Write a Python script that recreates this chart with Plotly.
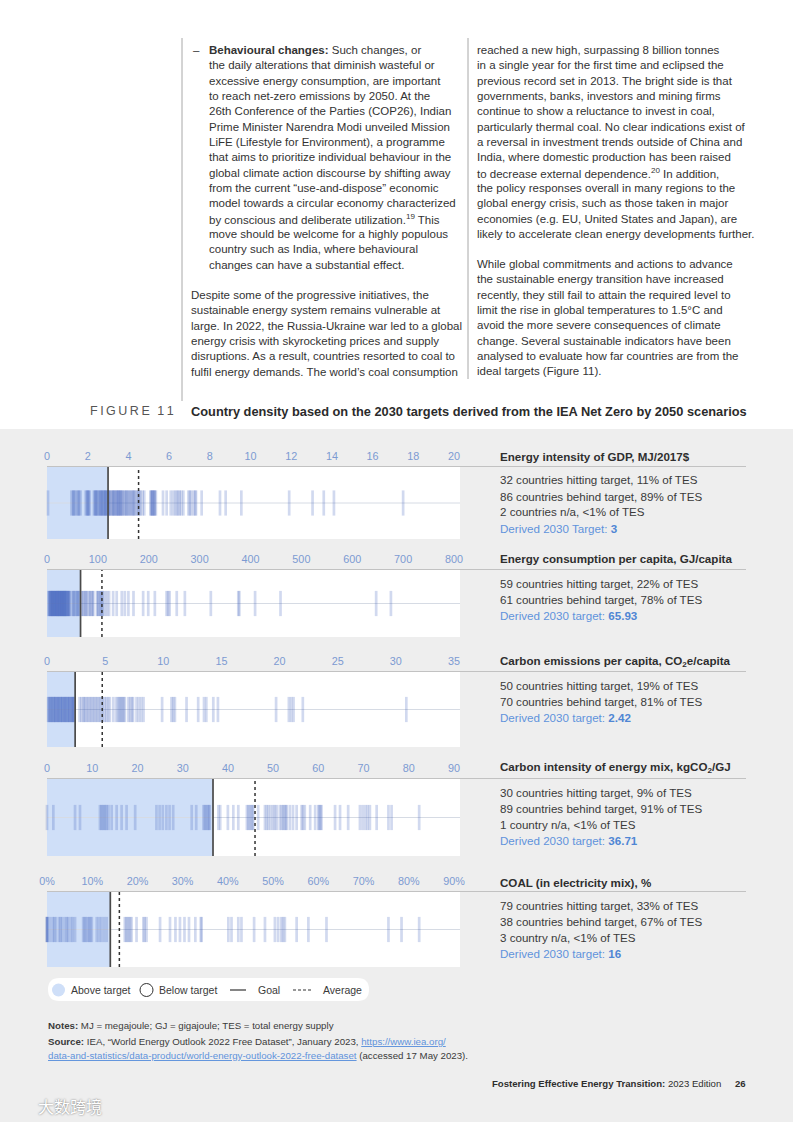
import plotly.graph_objects as go

# ---------------- DATA ----------------
panel_titles = [
    "Energy intensity of GDP, MJ/2017$",
    "Energy consumption per capita, GJ/capita",
    "Carbon emissions per capita, CO<sub>2</sub>e/capita",
    "Carbon intensity of energy mix, kgCO<sub>2</sub>/GJ",
    "COAL (in electricity mix), %",
]
panel_stats = [
    ["32 countries hitting target, 11% of TES", "86 countries behind target, 89% of TES", "2 countries n/a, &lt;1% of TES"],
    ["59 countries hitting target, 22% of TES", "61 countries behind target, 78% of TES"],
    ["50 countries hitting target, 19% of TES", "70 countries behind target, 81% of TES"],
    ["30 countries hitting target, 9% of TES", "89 countries behind target, 91% of TES", "1 country n/a, &lt;1% of TES"],
    ["79 countries hitting target, 33% of TES", "38 countries behind target, 67% of TES", "3 country n/a, &lt;1% of TES"],
]
target_labels = ["Derived 2030 Target: ", "Derived 2030 target: ", "Derived 2030 target: ",
                 "Derived 2030 target: ", "Derived 2030 target: "]
target_values = ["3", "65.93", "2.42", "36.71", "16"]

axis_max = [20, 800, 35, 90, 90]
axis_step = [2, 100, 5, 10, 10]
tick_suffix = ["", "", "", "", "%"]
goals = [3, 65.93, 2.42, 36.71, 14]
averages = [4.5, 108, 4.75, 46, 16]

energy_intensity = [0.05,
    1.2, 1.28, 1.3, 1.35, 1.42, 1.5, 1.55, 1.58, 1.65,
    1.9, 1.95, 2.0, 2.02, 2.05, 2.1,
    2.3, 2.35, 2.4, 2.4, 2.45, 2.5, 2.55, 2.6, 2.62, 2.68, 2.7, 2.72, 2.78, 2.82, 2.85, 2.88, 2.9, 2.95, 3.0, 3.02, 3.05, 3.08,
    3.12, 3.18, 3.22, 3.25, 3.28, 3.3, 3.35, 3.4, 3.42, 3.45, 3.5, 3.52, 3.55, 3.58, 3.62, 3.65, 3.68, 3.72, 3.78,
    3.82, 3.88, 3.9, 3.95, 4.0, 4.05, 4.1, 4.15, 4.2, 4.25, 4.28, 4.32, 4.4, 4.45, 4.5, 4.55, 4.6,
    4.7, 4.78,
    5.08, 5.12, 5.15, 5.18, 5.2, 5.25, 5.28, 5.3, 5.35,
    5.7, 5.88, 6.08, 6.2,
    6.3, 6.38, 6.45, 6.52, 6.6, 6.7,
    6.95, 7.02, 7.08, 7.2, 7.28, 7.32, 7.6,
    8.5, 8.78, 9.55, 11.9, 13.05, 13.6, 14.1, 17.5]

energy_per_capita = [3, 4, 5, 6, 7, 8, 9, 10, 10, 11, 12, 13, 14, 15, 15, 16, 17, 18, 19, 20, 20,
    21, 22, 23, 24, 25, 25, 26, 27, 28, 29, 30, 30, 31, 32, 33, 34, 35, 35, 36, 37, 38, 39,
    40, 41, 42, 43, 44, 45,
    50, 52, 53, 56, 58, 60, 62, 63,
    68, 70, 72, 75, 76, 78,
    81, 84, 85, 88, 90, 91,
    98, 100, 101, 104, 105, 107, 109, 110,
    114, 118, 122,
    130, 137, 147, 153, 160, 170,
    189, 199, 212,
    235, 238, 241,
    255, 271,
    322, 376, 378, 409, 459, 647, 676]

carbon_per_capita = [0.1, 0.15, 0.2, 0.3, 0.35, 0.4, 0.45, 0.55, 0.6, 0.65, 0.7, 0.75, 0.85, 0.9, 0.95,
    1.0, 1.05, 1.15, 1.2, 1.25, 1.3, 1.35, 1.45, 1.5, 1.55, 1.6, 1.65, 1.75, 1.8, 1.85, 1.9, 1.95,
    2.05, 2.1, 2.15, 2.2, 2.25, 2.3, 2.35,
    2.8, 2.95, 3.1, 3.2, 3.3, 3.45, 3.55, 3.7, 3.8, 3.95, 4.05, 4.2, 4.3, 4.45, 4.55,
    4.7, 4.8, 4.95, 5.1, 5.25, 5.4,
    5.7, 5.95,
    6.1, 6.2, 6.3, 6.4, 6.5, 6.6, 6.7,
    7.0, 7.15, 7.3, 7.4,
    7.7, 7.9, 8.1, 8.3,
    9.9, 10.7, 10.85, 11.0, 12.0, 13.0, 13.5, 13.7, 14.3, 14.7,
    19.7, 20.8, 21.0, 21.2, 22.0,
    30.9]

carbon_intensity = [0, 1.4, 6.2, 7.3,
    11.7, 12.0, 12.3, 12.6, 12.9, 13.2, 13.6,
    14.3, 15.4, 16.5, 17.6, 19.5,
    24.2, 24.9, 25.6, 26.4, 27.1, 27.9,
    32.0, 33.0,
    34.6, 34.9, 35.2, 35.5, 35.8, 36.0,
    37.9, 38.3,
    40.0, 41.2, 42.3,
    44.2, 44.5, 44.8, 45.1, 45.4, 45.6,
    46.7,
    48.2, 48.6, 49.0, 49.5, 50.0, 50.4, 50.8,
    51.5, 51.9, 52.2, 52.5, 52.8, 53.0,
    53.7, 54.4, 55.2,
    56.3, 56.6, 57.0,
    58.2, 59.3,
    60.0, 60.2, 60.5, 60.7,
    63.7, 64.8, 66.6,
    69.2, 69.8, 70.4, 70.9, 71.4,
    72.9, 75.5, 76.2, 82.3]

coal_share = [0, 0, 0, 0.1,
    0.7, 1.3, 1.6, 2.0, 2.7, 3.0, 3.4, 4.0, 4.4, 4.7, 5.3, 5.7, 6.2,
    8.0, 8.3, 8.6, 9.0, 9.3, 9.6, 9.9,
    11.0, 11.5, 12.0, 12.6, 13.2,
    17.2, 17.5, 17.8, 18.1, 18.4, 18.7,
    19.8, 21.3, 21.6, 22.0,
    25.0, 27.2, 28.4, 29.4, 30.4, 31.4, 32.8, 34.0, 34.2,
    40.1, 40.8, 42.3, 43.0,
    45.8, 48.2, 50.4, 51.1, 51.8, 52.2, 52.6,
    55.2, 57.8, 61.8, 75.5, 78.4, 82.3]

panel_values = [energy_intensity, energy_per_capita, carbon_per_capita, carbon_intensity, coal_share]

left_bullet = [
    "<b>Behavioural changes:</b> Such changes, or",
    "the daily alterations that diminish wasteful or",
    "excessive energy consumption, are important",
    "to reach net-zero emissions by 2050. At the",
    "26th Conference of the Parties (COP26), Indian",
    "Prime Minister Narendra Modi unveiled Mission",
    "LiFE (Lifestyle for Environment), a programme",
    "that aims to prioritize individual behaviour in the",
    "global climate action discourse by shifting away",
    "from the current \u201cuse-and-dispose\u201d economic",
    "model towards a circular economy characterized",
    "by conscious and deliberate utilization.<sup>19</sup> This",
    "move should be welcome for a highly populous",
    "country such as India, where behavioural",
    "changes can have a substantial effect.",
]
left_para = [
    "Despite some of the progressive initiatives, the",
    "sustainable energy system remains vulnerable at",
    "large. In 2022, the Russia-Ukraine war led to a global",
    "energy crisis with skyrocketing prices and supply",
    "disruptions. As a result, countries resorted to coal to",
    "fulfil energy demands. The world\u2019s coal consumption",
]
right_para1 = [
    "reached a new high, surpassing 8 billion tonnes",
    "in a single year for the first time and eclipsed the",
    "previous record set in 2013. The bright side is that",
    "governments, banks, investors and mining firms",
    "continue to show a reluctance to invest in coal,",
    "particularly thermal coal. No clear indications exist of",
    "a reversal in investment trends outside of China and",
    "India, where domestic production has been raised",
    "to decrease external dependence.<sup>20</sup> In addition,",
    "the policy responses overall in many regions to the",
    "global energy crisis, such as those taken in major",
    "economies (e.g. EU, United States and Japan), are",
    "likely to accelerate clean energy developments further.",
]
right_para2 = [
    "While global commitments and actions to advance",
    "the sustainable energy transition have increased",
    "recently, they still fail to attain the required level to",
    "limit the rise in global temperatures to 1.5\u00b0C and",
    "avoid the more severe consequences of climate",
    "change. Several sustainable indicators have been",
    "analysed to evaluate how far countries are from the",
    "ideal targets (Figure 11).",
]
figure_label = "F\u2009I\u2009G\u2009U\u2009R\u2009E\u2009\u2009\u20091\u20091"
figure_title = "Country density based on the 2030 targets derived from the IEA Net Zero by 2050 scenarios"
legend_labels = ["Above target", "Below target", "Goal", "Average"]

# ---------------- LAYOUT HELPERS ----------------
W, H = 793, 1122
FONT = "Liberation Sans, Arial, sans-serif"
TXT = "#333333"
BLUE_TXT = "#5f93dc"
SHADE = "#cfdff8"
BG = "#eeeeee"


def fx(x):
    return x / W


def fy(y):
    return 1 - y / H


annotations = []
shapes = []


def add_text(x, y, text, size=11.5, color=TXT, anchor="left", family=FONT):
    annotations.append(dict(x=fx(x), y=fy(y), xref="paper", yref="paper", text=text,
                            showarrow=False, xanchor=anchor, yanchor="middle",
                            borderpad=0, font=dict(size=size, color=color, family=family)))


def paper_line(x0, y0, x1, y1, color, width=1, dash="solid", layer="above"):
    shapes.append(dict(type="line", xref="paper", yref="paper", x0=fx(x0), y0=fy(y0),
                       x1=fx(x1), y1=fy(y1), line=dict(color=color, width=width, dash=dash),
                       layer=layer))


fig = go.Figure()

# page backgrounds: white upper part
shapes.append(dict(type="rect", xref="paper", yref="paper", x0=0, x1=1, y0=fy(429), y1=1,
                   fillcolor="white", line=dict(width=0), layer="below"))

# ---------------- BODY TEXT ----------------
LH = 15.33
add_text(192, 50, "\u2013", size=11.5)
for i, line in enumerate(left_bullet):
    add_text(208, 50 + i * LH, line)
for i, line in enumerate(left_para):
    add_text(190, 295 + i * LH, line)
for i, line in enumerate(right_para1):
    add_text(476, 50 + i * LH, line)
for i, line in enumerate(right_para2):
    add_text(476, 264 + i * LH, line)

paper_line(182, 38, 182, 401, "#a8a8a8", 1)
paper_line(468, 38, 468, 379, "#a8a8a8", 1)

add_text(89, 411, figure_label, size=12.5, color="#555555")
add_text(190, 411, "<b>" + figure_title + "</b>", size=12.8, color="#2b2b2b")

# ---------------- PANELS ----------------
box_top = [467, 570, 672, 779, 892]
box_bot = [539, 637, 747, 856, 967]
title_y = [457, 558, 661, 767, 882]
BOX_L, BOX_R, AX_END = 47, 460, 454

layout_axes = {}
for i in range(5):
    n = i + 1
    xa = "xaxis" if n == 1 else f"xaxis{n}"
    ya = "yaxis" if n == 1 else f"yaxis{n}"
    xr = "x" if n == 1 else f"x{n}"
    yr = "y" if n == 1 else f"y{n}"
    amax = axis_max[i]
    rmax = amax * (BOX_R - BOX_L) / (AX_END - BOX_L)
    tv = list(range(0, amax + 1, axis_step[i]))
    tt = [f"{v}{tick_suffix[i]}" for v in tv]
    layout_axes[xa] = dict(domain=[fx(BOX_L), fx(BOX_R)], range=[0, rmax], anchor=yr,
                           side="top", tickvals=tv, ticktext=tt, showgrid=False,
                           zeroline=False, showline=False, ticks="", fixedrange=True,
                           automargin=False, ticklabelstandoff=4,
                           tickfont=dict(size=10.8, color="#7c9ad2", family=FONT))
    layout_axes[ya] = dict(domain=[fy(box_bot[i]), fy(box_top[i])], range=[-1, 1],
                           visible=False, fixedrange=True, automargin=False)

    vals = panel_values[i]
    fig.add_trace(go.Scatter(
        x=vals, y=[0] * len(vals), xaxis=xr, yaxis=yr, mode="markers",
        marker=dict(symbol="line-ns", size=18,
                    line=dict(width=2.7, color="rgba(62,96,188,0.24)")),
        cliponaxis=False, hoverinfo="skip", showlegend=False))

    # shaded "above target" region
    shapes.append(dict(type="rect", xref=xr, yref=f"{yr} domain", x0=0, x1=goals[i],
                       y0=0, y1=1, fillcolor=SHADE, line=dict(width=0), layer="below"))
    # center line
    shapes.append(dict(type="line", xref=f"{xr} domain", yref=yr, x0=0, x1=1, y0=0, y1=0,
                       line=dict(color="#d6dbe4", width=1), layer="below"))
    # goal line
    shapes.append(dict(type="line", xref=xr, yref=f"{yr} domain", x0=goals[i], x1=goals[i],
                       y0=0, y1=1, line=dict(color="#4a4a4a", width=1.7), layer="above"))
    # average line
    shapes.append(dict(type="line", xref=xr, yref=f"{yr} domain", x0=averages[i], x1=averages[i],
                       y0=0, y1=1, line=dict(color="#333333", width=1.5, dash="3px,3px"),
                       layer="above"))
    # top rule
    paper_line(BOX_L, box_top[i] - 0.5, 746, box_top[i] - 0.5, "#c2c2c2", 1.2)

    # right text
    add_text(499, title_y[i], "<b>" + panel_titles[i] + "</b>", size=11.6, color="#2e2e2e")
    ys = box_top[i] + 13
    for k, s in enumerate(panel_stats[i]):
        add_text(499, ys + k * 16, s, size=11.6, color="#3a3a3a")
    k = len(panel_stats[i])
    add_text(499, ys + k * 16,
             target_labels[i] + f"<b><span style='color:#4f86d4'>{target_values[i]}</span></b>",
             size=11.6, color=BLUE_TXT)

# ---------------- LEGEND ----------------
lx0, lx1, ly0, ly1 = 48, 369, 978, 1001
r = (ly1 - ly0) / 2
path = (f"M{fx(lx0 + r)},{fy(ly0)} L{fx(lx1 - r)},{fy(ly0)} "
        f"Q{fx(lx1)},{fy(ly0)} {fx(lx1)},{fy(ly0 + r)} "
        f"Q{fx(lx1)},{fy(ly1)} {fx(lx1 - r)},{fy(ly1)} "
        f"L{fx(lx0 + r)},{fy(ly1)} "
        f"Q{fx(lx0)},{fy(ly1)} {fx(lx0)},{fy(ly0 + r)} "
        f"Q{fx(lx0)},{fy(ly0)} {fx(lx0 + r)},{fy(ly0)} Z")
shapes.append(dict(type="path", xref="paper", yref="paper", path=path,
                   fillcolor="white", line=dict(width=0), layer="below"))
ly = 990
shapes.append(dict(type="circle", xref="paper", yref="paper", x0=fx(52), x1=fx(65),
                   y0=fy(ly + 6.5), y1=fy(ly - 6.5), fillcolor=SHADE, line=dict(width=0),
                   layer="above"))
shapes.append(dict(type="circle", xref="paper", yref="paper", x0=fx(140), x1=fx(153),
                   y0=fy(ly + 6.5), y1=fy(ly - 6.5), fillcolor="white",
                   line=dict(width=1, color="#333333"), layer="above"))
paper_line(230, ly, 246, ly, "#333333", 1.2)
paper_line(293, ly, 313, ly, "#333333", 1.2, dash="3px,2px")
for xpos, lab in zip([70, 158, 257, 322], legend_labels):
    add_text(xpos, ly, lab, size=10.5, color="#3a3a3a")

# ---------------- NOTES / FOOTER ----------------
add_text(47, 1025, "<b>Notes:</b> MJ = megajoule; GJ = gigajoule; TES = total energy supply",
         size=9.7, color="#3a3a3a")
add_text(47, 1041, "<b>Source:</b> IEA, \u201cWorld Energy Outlook 2022 Free Dataset\u201d, January 2023, "
         "<span style='color:#5f93dc;text-decoration:underline'>https://www.iea.org/</span>",
         size=9.7, color="#3a3a3a")
add_text(47, 1055, "<span style='color:#5f93dc;text-decoration:underline'>"
         "data-and-statistics/data-product/world-energy-outlook-2022-free-dataset</span>"
         " (accessed 17 May 2023).", size=9.7, color="#3a3a3a")
add_text(722, 1083, "<b>Fostering Effective Energy Transition:</b> 2023 Edition",
         size=9.6, color="#2e2e2e", anchor="right")
add_text(734, 1083, "<b>26</b>", size=9.6, color="#2e2e2e")
annotations.append(dict(x=fx(36), y=fy(1106), xref="paper", yref="paper", text="大数跨境",
                        showarrow=False, xanchor="left", yanchor="middle",
                        font=dict(size=16, color="white", family="Noto Sans CJK SC",
                                  shadow="0px 0px 2px #666")))

fig.update_layout(
    width=W, height=H, margin=dict(l=0, r=0, t=0, b=0, pad=0, autoexpand=False),
    paper_bgcolor=BG, plot_bgcolor="white", showlegend=False, autosize=False,
    annotations=annotations, shapes=shapes, **layout_axes)

fig.write_html("out.html", config={"responsive": False, "displayModeBar": False},
               post_script="document.body.style.margin='0';document.body.style.overflow='hidden';")
